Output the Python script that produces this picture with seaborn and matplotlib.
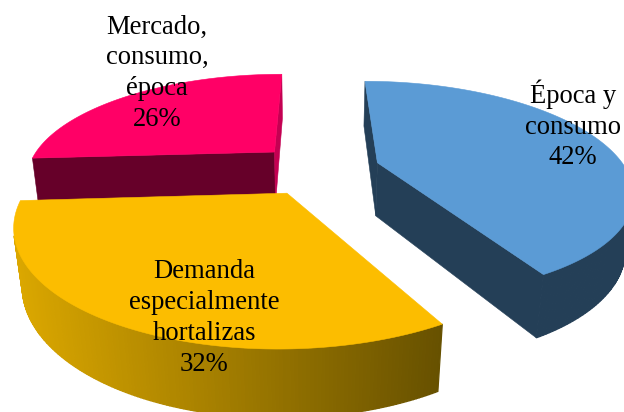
import numpy as np
import matplotlib
matplotlib.use('Agg')
import matplotlib.pyplot as plt
import seaborn as sb

# datos del grafico
categorias = ['Época y\nconsumo', 'Demanda\nespecialmente\nhortalizas', 'Mercado,\nconsumo,\népoca']
porcentajes = [42, 32, 26]

# colores: cara superior, pared recta inicial, pared recta final, borde curvo
color_top = ['#5B9BD5', '#FCBD00', '#FF0066']
color_ini = ['#243F57', '#665000', '#660029']
color_fin = ['#243F57', '#8A6C00', '#C40052']
color_rim = [['#243F57', '#243F57'], ['#DCA800', '#665000'], ['#660029', '#660029']]
pos_texto = [(573, 125), (204, 318), (157, 73)]

# camara en perspectiva, valores en pixeles
CX, CY = 313.0, 165.0
ESC_X, ESC_Y, ESC_Z = 246.0, 102.0, 228.0
G, H = 0.24, 0.107
DX, DY = 0.021, -0.04
EXPLOSION = 0.25
ALTO = 0.24


def proyectar(x, y, z=0.0):
    x = np.asarray(x) + DX
    y = np.asarray(y) + DY
    w = 1 + G * y - H * z
    return CX + ESC_X * x / w, CY - (ESC_Y * y + ESC_Z * z) / w


def visible(x, y):
    # signo del area en pantalla (y hacia abajo): negativo = mira a la camara
    return np.sum(x * np.roll(y, -1) - np.roll(x, -1) * y) < 0


def cara(ax, x, y, color, orden, grosor=0.4):
    ax.fill(x, y, facecolor=color, edgecolor=color, linewidth=grosor, zorder=orden)


sb.set_theme(style='white')
plt.rcParams['font.family'] = ['Liberation Serif', 'DejaVu Serif']

fig, ax = plt.subplots(figsize=(6.24, 4.12), dpi=100)
fig.subplots_adjust(left=0, right=1, bottom=0, top=1)
ax.set_xlim(0, 624)
ax.set_ylim(412, 0)
ax.axis('off')

# azul, luego rosa, luego amarillo encima
for orden_base, i in zip([10, 20, 30], [0, 2, 1]):
    inicio = 90.0 - 3.6 * sum(porcentajes[:i])
    fin = inicio - 3.6 * porcentajes[i]
    medio = np.radians((inicio + fin) / 2)
    ax0 = EXPLOSION * np.cos(medio)
    ay0 = EXPLOSION * np.sin(medio)
    t = np.radians(np.linspace(inicio, fin, 181))
    bx = ax0 + np.cos(t)
    by = ay0 + np.sin(t)

    # paredes rectas
    paredes = [(np.array([ax0, bx[0], bx[0], ax0]), np.array([ay0, by[0], by[0], ay0]),
                np.array([0, 0, -ALTO, -ALTO]), color_ini[i]),
               (np.array([bx[-1], ax0, ax0, bx[-1]]), np.array([by[-1], ay0, ay0, by[-1]]),
                np.array([0, 0, -ALTO, -ALTO]), color_fin[i])]
    for xs, ys, zs, col in paredes:
        px, py = proyectar(xs, ys, zs)
        if visible(px, py):
            cara(ax, px, py, col, orden_base)

    # borde curvo, degradado de izquierda a derecha en pantalla
    tx, ty = proyectar(bx, by)
    lx, ly = proyectar(bx, by, -ALTO)
    pal = sb.blend_palette(color_rim[i], n_colors=256)
    for j in range(len(t) - 1):
        qx = np.array([tx[j], tx[j + 1], lx[j + 1], lx[j]])
        qy = np.array([ty[j], ty[j + 1], ly[j + 1], ly[j]])
        if visible(qx, qy):
            frac = np.clip((qx.mean() - tx.min()) / (tx.max() - tx.min()), 0, 1)
            cara(ax, qx, qy, pal[int(frac * 255)], orden_base + 2, grosor=0.9)

    # cara superior
    px, py = proyectar(np.r_[ax0, bx], np.r_[ay0, by])
    cara(ax, px, py, color_top[i], orden_base + 3)

for cat, pct, pos in zip(categorias, porcentajes, pos_texto):
    ax.text(pos[0], pos[1], f'{cat}\n{pct}%', ha='center', va='center', color='black',
            fontsize=19.2, linespacing=1.3, zorder=50)

fig.savefig('out.png', dpi=100, facecolor='white')
